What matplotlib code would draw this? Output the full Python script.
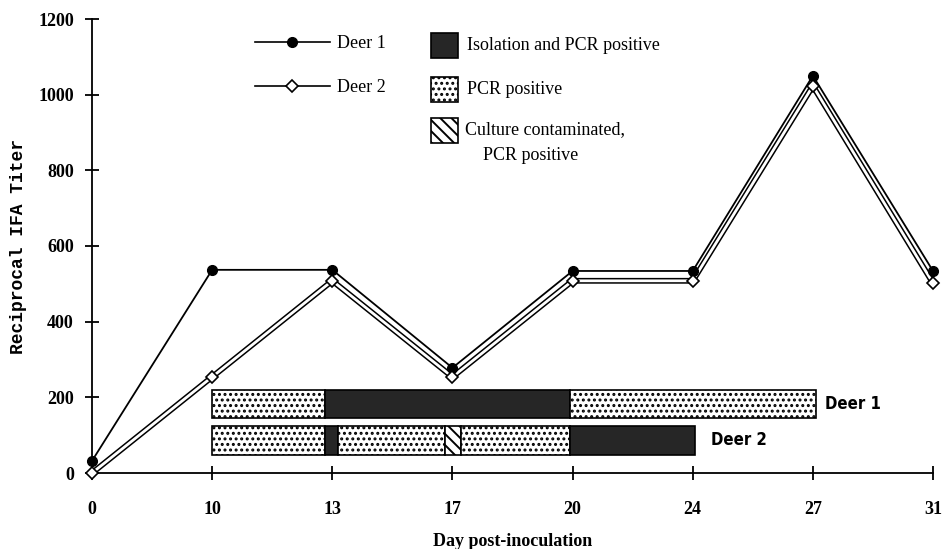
import numpy as np
import matplotlib
matplotlib.use("Agg")
import matplotlib.pyplot as plt
from matplotlib.patches import Rectangle
from matplotlib.lines import Line2D

# data
days = ["0", "10", "13", "17", "20", "24", "27", "31"]
deer1_titer = [32, 537, 537, 278, 534, 534, 1050, 534]
deer2_titer = [0, 254, 508, 254, 508, 508, 1023, 502]

# status bars: (start position, end position, kind) on the day-index axis
deer1_segments = [(1.0, 1.94, "pcr"), (1.94, 3.98, "iso"), (3.98, 6.03, "pcr")]
deer2_segments = [(1.0, 1.94, "pcr"), (1.94, 2.05, "iso"), (2.05, 2.94, "pcr"),
                  (2.94, 3.07, "cont"), (3.07, 3.98, "pcr"), (3.98, 5.02, "iso")]
deer1_band = (145, 219)
deer2_band = (48, 124)

styles = {
    "iso": dict(facecolor="#262626", hatch=None),
    "pcr": dict(facecolor="white", hatch="..."),
    "cont": dict(facecolor="white", hatch="\\\\\\"),
}

plt.rcParams["hatch.linewidth"] = 1.4
fig = plt.figure(figsize=(9.46, 5.49), dpi=100)
ax = fig.add_axes([92 / 946, 1 - 473 / 549, (933 - 92) / 946, (473 - 19) / 549])

x = np.arange(len(days))

# deer 2: hollow double line
ax.plot(x, deer2_titer, color="black", lw=4.2, zorder=3, solid_joinstyle="miter")
ax.plot(x, deer2_titer, color="white", lw=2.0, zorder=4, solid_joinstyle="miter")
ax.plot(x, deer2_titer, ls="none", marker="D", ms=6.5, mfc="white", mec="black",
        mew=1.2, zorder=6, clip_on=False)
# deer 1
ax.plot(x, deer1_titer, color="black", lw=1.3, marker="o", ms=7, zorder=5, clip_on=False)

for segs, band in [(deer1_segments, deer1_band), (deer2_segments, deer2_band)]:
    for x0, x1, kind in segs:
        st = styles[kind]
        ax.add_patch(Rectangle((x0, band[0]), x1 - x0, band[1] - band[0],
                               facecolor=st["facecolor"], hatch=st["hatch"],
                               edgecolor="black", lw=1.2, zorder=2))

ax.text(6.10, 182, "Deer 1", fontsize=12, fontweight="bold", family="DejaVu Sans",
        stretch="condensed", va="center")
ax.text(5.15, 86, "Deer 2", fontsize=12, fontweight="bold", family="DejaVu Sans",
        stretch="condensed", va="center")

ax.set_xlim(0, len(days) - 1)
ax.set_ylim(0, 1200)
ax.set_xticks(x)
ax.set_xticklabels(days)
ax.set_yticks(range(0, 1201, 200))
ax.spines["top"].set_visible(False)
ax.spines["right"].set_visible(False)
for s in ["left", "bottom"]:
    ax.spines[s].set_linewidth(1.3)
ax.tick_params(direction="inout", length=10, width=1.3, labelsize=13)
ax.tick_params(axis="x", pad=15)
ax.tick_params(axis="y", pad=8)
for lab in ax.get_xticklabels() + ax.get_yticklabels():
    lab.set_family("Liberation Serif")
    lab.set_fontweight("bold")

ax.set_xlabel("Day post-inoculation", fontsize=13, fontweight="bold",
              family="Liberation Serif", labelpad=11)
ax.set_ylabel("Reciprocal IFA Titer", fontsize=13, fontweight="bold",
              family="Liberation Mono", labelpad=8)

# legend, drawn by hand
def fx(px):
    return px / 946

def fy(py):
    return 1 - py / 549

fig.add_artist(Line2D([fx(255), fx(330)], [fy(42), fy(42)], color="black", lw=1.2))
fig.add_artist(Line2D([fx(292)], [fy(42)], marker="o", ms=7, color="black"))
fig.add_artist(Line2D([fx(255), fx(330)], [fy(86), fy(86)], color="black", lw=1.2))
fig.add_artist(Line2D([fx(292)], [fy(86)], marker="D", ms=6, mfc="white", mec="black", mew=1.2))
leg_font = dict(fontsize=13, family="Liberation Serif", va="center")
fig.text(fx(337), fy(44), "Deer 1", **leg_font)
fig.text(fx(337), fy(88), "Deer 2", **leg_font)

for py, kind in [(33, "iso"), (77, "pcr"), (118, "cont")]:
    st = styles[kind]
    fig.add_artist(Rectangle((fx(431), fy(py + 25)), fx(27), 25 / 549,
                             transform=fig.transFigure, facecolor=st["facecolor"],
                             hatch=st["hatch"], edgecolor="black", lw=1.2))
fig.text(fx(467), fy(46), "Isolation and PCR positive", **leg_font)
fig.text(fx(467), fy(90), "PCR positive", **leg_font)
fig.text(fx(465), fy(130), "Culture contaminated,", **leg_font)
fig.text(fx(483), fy(156), "PCR positive", **leg_font)

fig.savefig("out.png", dpi=100)
